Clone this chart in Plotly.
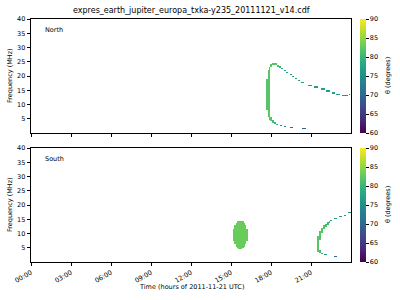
import numpy as np
import plotly.graph_objects as go

TITLE = "expres_earth_jupiter_europa_txka-y235_20111121_v14.cdf"
hour_ticks = [0, 3, 6, 9, 12, 15, 18, 21]
hour_labels = ["00:00", "03:00", "06:00", "09:00", "12:00", "15:00", "18:00", "21:00"]
freq_ticks = [5, 10, 15, 20, 25, 30, 35, 40]
theta_ticks = [60, 65, 70, 75, 80, 85, 90]

# Emission cells: start hour, end hour, low freq, high freq, theta
north_start = [17.65, 17.75, 17.85, 17.95, 17.95, 18.05, 18.05, 18.20, 18.40, 18.65, 19.00, 19.40, 20.30,
               18.45, 18.60, 18.75, 18.95, 19.15, 19.40, 19.60, 19.80, 20.05, 20.25, 20.75, 21.25,
               21.75, 22.15, 22.55, 22.90, 23.30, 23.85]
north_end = [17.75, 17.85, 17.95, 18.05, 18.05, 18.20, 18.45, 18.40, 18.55, 18.85, 19.15, 19.65, 20.60,
             18.60, 18.75, 18.90, 19.10, 19.30, 19.55, 19.75, 19.95, 20.20, 20.45, 21.05, 21.55,
             22.05, 22.40, 22.80, 23.15, 23.80, 23.95]
north_fmin = [8.0, 5.5, 4.6, 4.0, 23.0, 3.5, 23.8, 3.0, 2.7, 2.3, 1.9, 1.5, 1.2,
              23.2, 22.8, 22.3, 21.7, 21.0, 20.3, 19.6, 19.0, 18.2, 17.4, 16.5, 15.9,
              15.2, 14.5, 13.8, 13.2, 12.9, 13.2]
north_fmax = [19.0, 22.0, 23.3, 5.4, 24.2, 4.4, 24.4, 3.7, 3.2, 2.7, 2.3, 1.9, 1.6,
              23.9, 23.4, 22.9, 22.2, 21.5, 20.8, 20.1, 19.4, 18.6, 17.8, 16.9, 16.3,
              15.6, 14.9, 14.2, 13.6, 13.3, 13.6]
north_theta = [82, 82, 82, 82, 82, 81, 82, 80, 78, 76, 74, 70, 69,
               81, 80, 79, 78, 77, 77, 77, 77, 77, 77, 77, 77,
               77, 77, 77, 76, 76, 76]

south_start = [15.15, 15.25, 15.35, 15.45, 15.55, 15.65, 15.75, 15.85, 15.95, 16.05, 16.15,
               21.45, 21.60, 21.60, 21.75, 21.75, 21.90, 22.05, 22.20, 22.35, 21.95, 22.70,
               22.45, 22.70, 23.10, 23.45, 23.80]
south_end = [15.25, 15.35, 15.45, 15.55, 15.65, 15.75, 15.85, 15.95, 16.05, 16.15, 16.25,
             21.60, 21.75, 21.75, 21.90, 21.90, 22.05, 22.20, 22.35, 22.45, 22.20, 22.95,
             22.60, 22.95, 23.30, 23.65, 24.00]
south_fmin = [7.4, 6.1, 5.3, 4.85, 4.6, 4.5, 4.6, 4.85, 5.3, 6.1, 7.4,
              3.6, 3.0, 7.5, 2.6, 10.0, 11.5, 12.3, 13.0, 13.5, 2.4, 1.8,
              14.3, 15.0, 15.6, 16.2, 17.0]
south_fmax = [11.6, 12.9, 13.7, 14.15, 14.4, 14.5, 14.4, 14.15, 13.7, 12.9, 11.6,
              9.0, 4.2, 11.0, 3.2, 12.0, 12.8, 13.4, 13.9, 14.2, 2.8, 2.2,
              14.7, 15.4, 16.0, 16.6, 17.4]
south_theta = [83, 83, 83, 83, 83, 83, 83, 83, 83, 83, 83,
               82, 81, 82, 79, 82, 82, 81, 80, 79, 76, 70,
               77, 77, 77, 76, 74]

# grid for the heatmap
DX, DY = 0.05, 0.1
xc = np.round(np.arange(15.0, 24.0, DX) + DX / 2, 4)
yc = np.round(np.arange(0.0, 25.0, DY) + DY / 2, 4)


def build(starts, ends, fmins, fmaxs, thetas):
    z = np.full((len(yc), len(xc)), np.nan)
    for h0, h1, f0, f1, t in zip(starts, ends, fmins, fmaxs, thetas):
        cols = (xc >= h0) & (xc < h1)
        rows = (yc >= f0) & (yc <= f1)
        z[np.ix_(rows, cols)] = t
    return z


z_north = build(north_start, north_end, north_fmin, north_fmax, north_theta)
z_south = build(south_start, south_end, south_fmin, south_fmax, south_theta)

L, R, T, B = 31, 49, 19, 38
W, H = 400, 300
pw, ph = W - L - R, H - T - B
top_dom = [(H - B - 133) / ph, 1.0]
bot_dom = [0.0, (H - B - 148) / ph]
cbx = (360 - L) / pw

FONT = "DejaVu Sans"


def cbar(ypos, anchor):
    return dict(x=cbx, xanchor="left", y=ypos, yanchor=anchor, len=bot_dom[1],
                lenmode="fraction", thickness=6, thicknessmode="pixels", ypad=0, xpad=0,
                outlinewidth=0, tickvals=theta_ticks, ticks="outside", ticklen=3,
                tickwidth=0.8, tickcolor="black", tickfont=dict(size=6.5, family=FONT, color="black"))


fig = go.Figure()
fig.add_trace(go.Heatmap(x=xc, y=yc, z=z_north, colorscale="Viridis", zmin=60, zmax=90,
                         xaxis="x", yaxis="y", colorbar=cbar(1.0, "top"), hoverinfo="skip"))
fig.add_trace(go.Heatmap(x=xc, y=yc, z=z_south, colorscale="Viridis", zmin=60, zmax=90,
                         xaxis="x2", yaxis="y2", colorbar=cbar(0.0, "bottom"), hoverinfo="skip"))

axcommon = dict(showline=True, mirror=True, linecolor="black", linewidth=0.8,
                ticks="outside", ticklen=3.5, tickwidth=0.8, tickcolor="black",
                showgrid=False, zeroline=False,
                tickfont=dict(size=6.5, family=FONT, color="black"))

fig.update_layout(
    width=W, height=H, margin=dict(l=L, r=R, t=T, b=B),
    paper_bgcolor="white", plot_bgcolor="white", showlegend=False,
    xaxis=dict(axcommon, domain=[0, 1], anchor="y", range=[0, 24], tickvals=hour_ticks,
               showticklabels=False),
    yaxis=dict(axcommon, domain=top_dom, anchor="x", range=[0, 40], tickvals=freq_ticks),
    xaxis2=dict(axcommon, domain=[0, 1], anchor="y2", range=[0, 24], tickvals=hour_ticks,
                ticktext=hour_labels, tickangle=-30),
    yaxis2=dict(axcommon, domain=bot_dom, anchor="x2", range=[0, 40], tickvals=freq_ticks),
)

ann = []
ann.append(dict(text=TITLE, x=0.5, y=(H - B - 11) / ph, xref="paper", yref="paper",
                showarrow=False, font=dict(size=8, family=FONT, color="black"),
                xanchor="center", yanchor="middle"))
ann.append(dict(text="North", x=0.9, y=38.3, xref="x", yref="y", showarrow=False,
                font=dict(size=6.5, family=FONT, color="black"), xanchor="left", yanchor="top"))
ann.append(dict(text="South", x=0.9, y=38.3, xref="x2", yref="y2", showarrow=False,
                font=dict(size=6.5, family=FONT, color="black"), xanchor="left", yanchor="top"))
ann.append(dict(text="Time (hours of 2011-11-21 UTC)", x=0.5, y=(H - B - 287) / ph,
                xref="paper", yref="paper", showarrow=False,
                font=dict(size=6.5, family=FONT, color="black"), xanchor="center", yanchor="middle"))
for dom in (top_dom, bot_dom):
    ann.append(dict(text="Frequency (MHz)", x=(10 - L) / pw, y=(dom[0] + dom[1]) / 2,
                    xref="paper", yref="paper", showarrow=False, textangle=-90,
                    font=dict(size=6.5, family=FONT, color="black"), xanchor="center", yanchor="middle"))
    ann.append(dict(text="θ (degrees)", x=(388 - L) / pw, y=(dom[0] + dom[1]) / 2,
                    xref="paper", yref="paper", showarrow=False, textangle=-90,
                    font=dict(size=6.5, family=FONT, color="black"), xanchor="center", yanchor="middle"))
fig.update_layout(annotations=ann)

fig.write_html("out.html")
